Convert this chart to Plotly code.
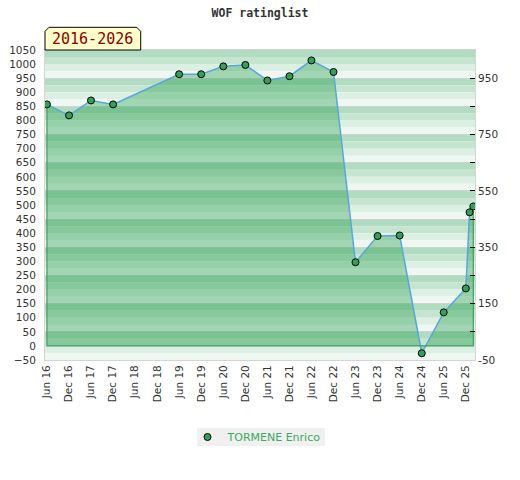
import plotly.graph_objects as go

# rating history, one point per list
dates = [
    "2016-06-01", "2016-12-01", "2017-06-01", "2017-12-01",
    "2019-06-01", "2019-12-01", "2020-06-01", "2020-12-01",
    "2021-06-01", "2021-12-01", "2022-06-01", "2022-12-01",
    "2023-06-01", "2023-12-01", "2024-06-01", "2024-12-01",
    "2025-06-01", "2025-12-01", "2026-01-01", "2026-02-01",
]
ratings = [857, 818, 871, 857, 964, 964, 992, 997, 942, 957,
           1013, 972, 297, 390, 392, -26, 119, 204, 474, 495]
player = "TORMENE Enrico"
period = "2016-2026"

tick_dates = [f"{y}-{m}-01" for y in range(2016, 2026) for m in ("06", "12")]
left_ticks = list(range(-50, 1051, 50))
right_ticks = list(range(-50, 951, 100))
right_text = [str(v) if (v + 50) % 200 == 0 else "" for v in right_ticks]

y_range = [-50, 1050]
stripe_colors = ["#b2dcc1", "#c6e5d0", "#dbefe2", "#eff7f2"]
tick_font = dict(family="DejaVu Sans", size=10.5, color="#333333")

W, H = 520, 480
L, R, T, B = 45, 45, 50, 120
PW, PH = W - L - R, H - T - B

fig = go.Figure()

# area under the rating line
fig.add_trace(go.Scatter(
    x=dates, y=ratings, mode="lines", fill="tozeroy",
    fillcolor="rgba(7,146,53,0.33)",
    line=dict(color="#5aa6dc", width=1.5),
    showlegend=False, hoverinfo="skip",
))
# green outline of the filled polygon (sides and zero line)
fig.add_trace(go.Scatter(
    x=[dates[0], dates[0], dates[-1], dates[-1]],
    y=[ratings[0], 0, 0, ratings[-1]],
    mode="lines", line=dict(color="#3c9f5e", width=1.2),
    showlegend=False, hoverinfo="skip",
))
fig.add_trace(go.Scatter(
    x=dates, y=ratings, mode="markers", name=player,
    marker=dict(size=7, color="#33a05a", line=dict(color="#000000", width=1)),
))
# invisible trace to carry the right axis
fig.add_trace(go.Scatter(
    x=dates[:1], y=ratings[:1], yaxis="y2", mode="markers",
    marker=dict(opacity=0), showlegend=False, hoverinfo="skip",
))

# striped background, 4 bands per 100 points
shapes = []
top = y_range[1]
k = 0
while top > y_range[0]:
    shapes.append(dict(
        type="rect", xref="paper", yref="y", layer="below",
        x0=0, x1=1, y0=top - 25, y1=top,
        fillcolor=stripe_colors[k % 4], line=dict(width=0),
    ))
    top -= 25
    k += 1

# period label box with cut corners
bx0, bx1, by0, by1 = 0.0, 0.2226, 1.0, 1.0732
cx, cy = 0.0093, 0.013
shapes.append(dict(
    type="path", xref="paper", yref="paper",
    path=(f"M {bx0},{by0} L {bx0},{by1 - cy} L {bx0 + cx},{by1} "
          f"L {bx1 - cx},{by1} L {bx1},{by1 - cy} L {bx1},{by0} Z"),
    fillcolor="#ffffcc", line=dict(color="#000000", width=1),
))

# grey box behind the legend (pixel box 197..325 x 428..446)
shapes.append(dict(
    type="rect", xref="paper", yref="paper", layer="above",
    x0=(197 - L) / PW, x1=(325 - L) / PW,
    y0=(H - B - 446) / PH, y1=(H - B - 428) / PH,
    fillcolor="#f0f0f0", line=dict(width=0),
))

fig.update_layout(
    width=W, height=H,
    margin=dict(l=L, r=R, t=T, b=B, autoexpand=False),
    paper_bgcolor="white", plot_bgcolor="white",
    shapes=shapes,
    title=dict(
        text="<b>WOF ratinglist</b>", x=0.5, xanchor="center",
        y=1 - 13 / H, yanchor="middle",
        font=dict(family="DejaVu Sans Mono", size=11.5, color="#333333"),
    ),
    annotations=[dict(
        text=period, xref="paper", yref="paper",
        x=(bx0 + bx1) / 2, y=(by0 + by1) / 2,
        xanchor="center", yanchor="middle", showarrow=False,
        font=dict(family="DejaVu Sans Mono", size=15, color="#8b0000"),
    )],
    xaxis=dict(
        type="date", range=["2016-05-16", "2026-02-15"],
        tickvals=tick_dates, tickformat="%b %y", tickangle=-90,
        tickfont=tick_font, showgrid=False, zeroline=False,
        showline=True, linecolor="#d4d4d4", mirror=True, ticks="",
        automargin=False,
    ),
    yaxis=dict(
        range=y_range, tickvals=left_ticks, tickfont=tick_font,
        showgrid=False, zeroline=False, ticks="",
        showline=True, linecolor="#d4d4d4", ticklabelstandoff=6,
        automargin=False,
    ),
    yaxis2=dict(
        range=y_range, overlaying="y", side="right",
        tickvals=right_ticks, ticktext=right_text, tickfont=tick_font,
        ticks="inside", ticklen=5, tickcolor="#000000",
        showgrid=True, gridcolor="#d2d2d2", gridwidth=1, zeroline=False,
        showline=True, linecolor="#d4d4d4", automargin=False,
    ),
    legend=dict(
        orientation="h", x=0.5 - 3 / PW, xanchor="center",
        y=(H - B - 437) / PH, yanchor="middle", bgcolor="rgba(0,0,0,0)",
        itemwidth=30, tracegroupgap=0,
        font=dict(family="DejaVu Sans", size=11, color="#3aa860"),
    ),
    showlegend=True,
)

# drop the default body margin so the figure sits at the window corner
fig.write_html(
    "out.html",
    config={"displayModeBar": False},
    post_script="document.body.style.margin='0';",
)
